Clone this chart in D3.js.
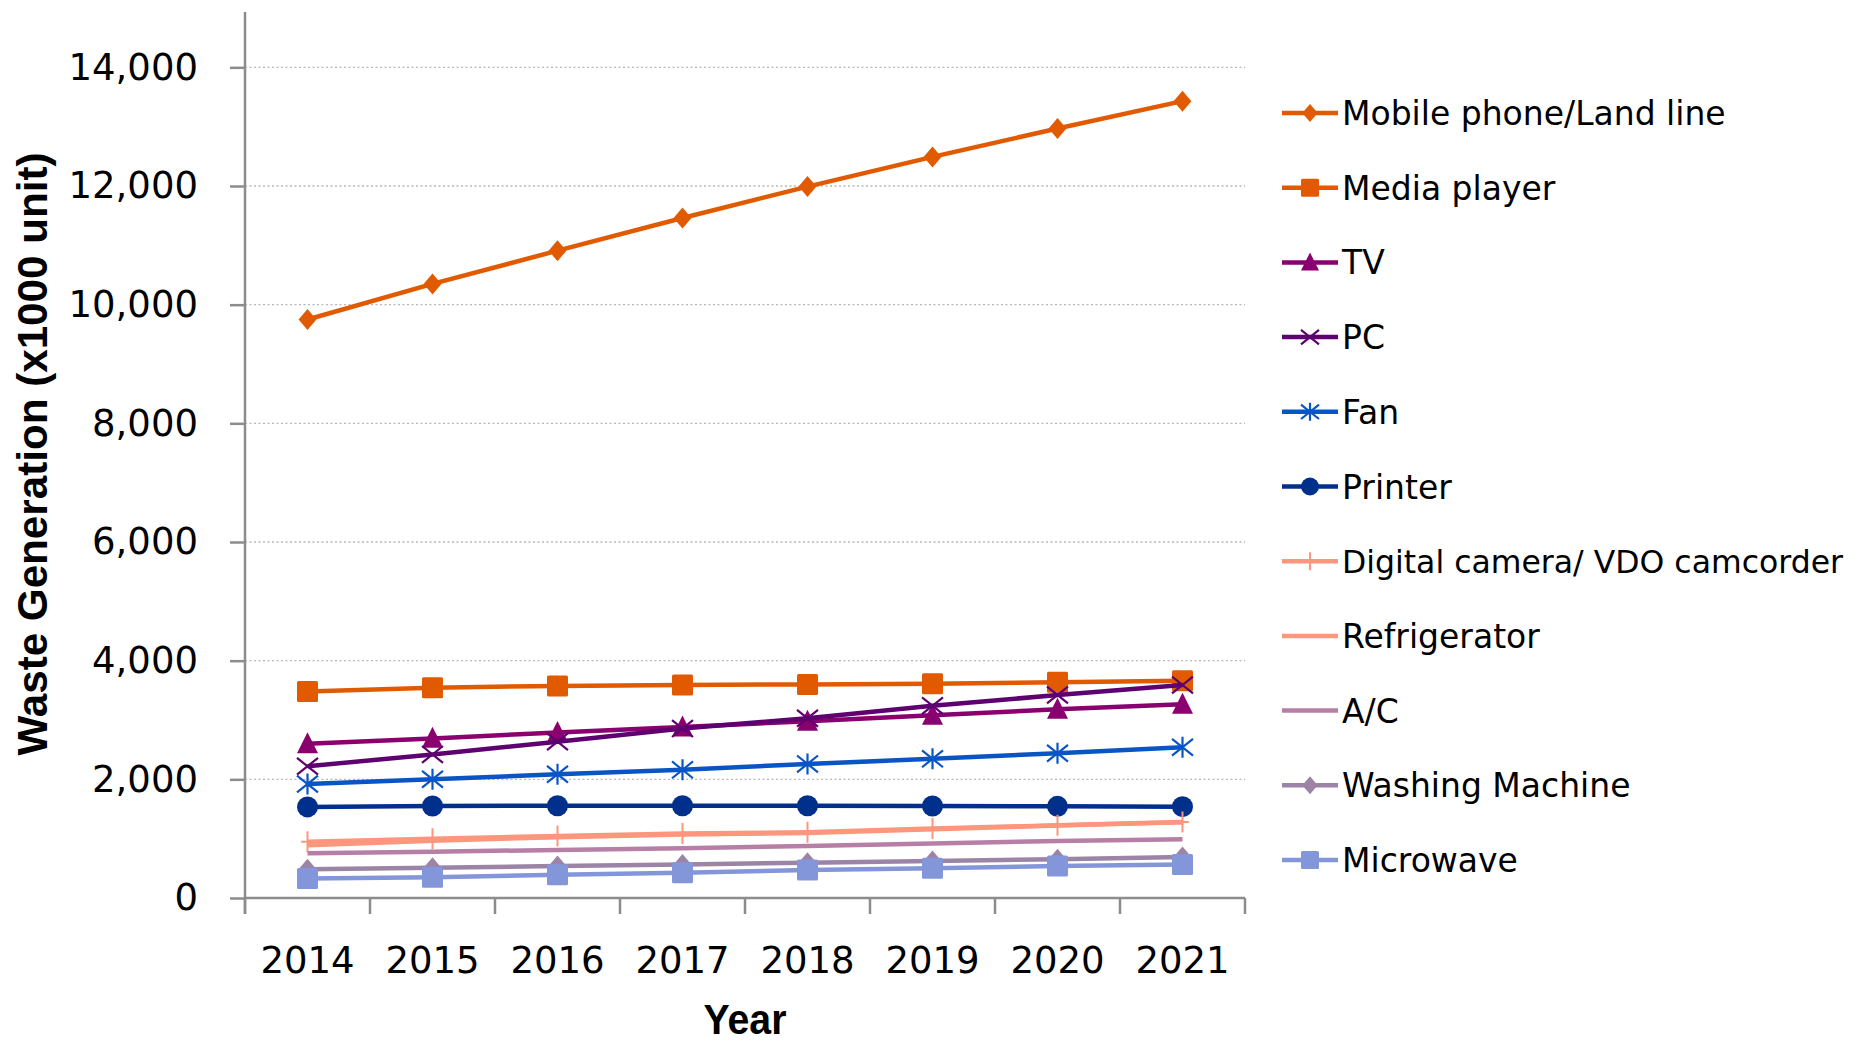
<!DOCTYPE html>
<html>
<head>
<meta charset="utf-8">
<script src="https://cdn.jsdelivr.net/npm/d3@7"></script>
<style>
  body { margin: 0; background: #fff; }
  svg { display: block; }
</style>
</head>
<body>
<div id="chart"></div>
<script>
// data
const years = ["2014", "2015", "2016", "2017", "2018", "2019", "2020", "2021"];
const seriesNames = ["Mobile phone/Land line", "Media player", "TV", "PC", "Fan", "Printer",
                     "Digital camera/ VDO camcorder", "Refrigerator", "A/C", "Washing Machine", "Microwave"];
const mobile = [9750, 10350, 10910, 11460, 11990, 12490, 12970, 13430];
const mediaPlayer = [3480, 3545, 3575, 3590, 3600, 3610, 3635, 3660];
const tv = [2600, 2690, 2790, 2880, 2980, 3080, 3180, 3265];
const pc = [2220, 2420, 2635, 2855, 3030, 3240, 3420, 3590];
const fan = [1920, 2000, 2085, 2160, 2260, 2345, 2440, 2540];
const printer = [1535, 1550, 1555, 1555, 1555, 1550, 1545, 1540];
const camera = [950, 1000, 1045, 1085, 1110, 1170, 1225, 1280];
const fridge = [890, 965, 1025, 1070, 1095, 1160, 1220, 1275];
const ac = [755, 780, 810, 840, 875, 920, 960, 990];
const washing = [485, 510, 540, 565, 595, 625, 655, 690];
const microwave = [330, 350, 390, 425, 470, 500, 540, 565];
const yTicks = [0, 2000, 4000, 6000, 8000, 10000, 12000, 14000];

const seriesValues = [mobile, mediaPlayer, tv, pc, fan, printer, camera, fridge, ac, washing, microwave];
const colors = ["#E25A00", "#E25A00", "#8A006E", "#5E0070", "#0A55C6", "#00308C",
                "#FC967C", "#FC967C", "#B77FA6", "#9C84A6", "#8496DA"];
const markers = ["diamond", "square", "triangle", "x", "star", "circle", "plus", null, null, "diamond", "square"];

const width = 1862, height = 1044;
const plot = { left: 245, right: 1245, top: 8, bottom: 898 };

const svg = d3.select("#chart").append("svg")
    .attr("width", width)
    .attr("height", height);

const x = d3.scalePoint().domain(years).range([plot.left, plot.right]).padding(0.5);
const xb = d3.scaleBand().domain(years).range([plot.left, plot.right]);
const y = d3.scaleLinear().domain([0, 15000]).range([plot.bottom, plot.top]);

// gridlines
svg.append("g")
   .selectAll("line")
   .data(yTicks.filter(d => d > 0))
   .enter().append("line")
   .attr("x1", plot.left).attr("x2", plot.right)
   .attr("y1", d => y(d)).attr("y2", d => y(d))
   .style("stroke", "#b8b8b8")
   .style("stroke-width", 1.3)
   .style("stroke-dasharray", "2,2.5");

// y axis
const yAxis = svg.append("g")
   .attr("transform", `translate(${plot.left},0)`)
   .call(d3.axisLeft(y).tickValues(yTicks).tickSize(15).tickPadding(32).tickFormat(d3.format(",")));
yAxis.select(".domain").attr("d", `M0,${plot.bottom + 16}V${12}`);
yAxis.selectAll("line, path").style("stroke", "#8c8c8c").style("stroke-width", 2.5);
yAxis.selectAll("text")
     .style("font-family", "DejaVu Sans")
     .style("font-size", "37px")
     .style("fill", "#000");

// x axis
const xAxis = svg.append("g");
xAxis.append("line")
     .attr("x1", plot.left).attr("x2", plot.right)
     .attr("y1", plot.bottom).attr("y2", plot.bottom)
     .style("stroke", "#8c8c8c").style("stroke-width", 2.5);
xAxis.selectAll(".tick")
     .data(years.map(d => xb(d)).concat([plot.right]))
     .enter().append("line")
     .attr("x1", d => d).attr("x2", d => d)
     .attr("y1", plot.bottom).attr("y2", plot.bottom + 16)
     .style("stroke", "#8c8c8c").style("stroke-width", 2.5);
xAxis.selectAll("text")
     .data(years)
     .enter().append("text")
     .attr("x", d => x(d))
     .attr("y", 973)
     .attr("text-anchor", "middle")
     .text(d => d)
     .style("font-family", "DejaVu Sans")
     .style("font-size", "37px");

// axis titles
svg.append("text")
   .attr("x", 745).attr("y", 1034)
   .attr("text-anchor", "middle")
   .attr("textLength", 83).attr("lengthAdjust", "spacingAndGlyphs")
   .text("Year")
   .style("font-family", "Liberation Sans")
   .style("font-weight", "bold")
   .style("font-size", "42px");

svg.append("text")
   .attr("transform", "translate(47,454) rotate(-90)")
   .attr("text-anchor", "middle")
   .attr("textLength", 603).attr("lengthAdjust", "spacingAndGlyphs")
   .text("Waste Generation (x1000 unit)")
   .style("font-family", "Liberation Sans")
   .style("font-weight", "bold")
   .style("font-size", "42px");

// marker drawing
function drawMarker(g, type, color, s) {
    if (type === "diamond") {
        g.append("path").attr("d", `M0,${-s}L${s * 0.85},0L0,${s}L${-s * 0.85},0Z`).style("fill", color);
    } else if (type === "square") {
        g.append("rect").attr("x", -s).attr("y", -s).attr("width", 2 * s).attr("height", 2 * s)
         .attr("rx", 1.5).style("fill", color);
    } else if (type === "triangle") {
        g.append("path").attr("d", `M0,${-s * 1.1}L${s},${s * 0.9}L${-s},${s * 0.9}Z`).style("fill", color);
    } else if (type === "circle") {
        g.append("circle").attr("r", s).style("fill", color);
    } else if (type === "x") {
        g.append("path").attr("d", `M${-s},${-s * 0.8}L${s},${s * 0.8}M${-s},${s * 0.8}L${s},${-s * 0.8}`)
         .style("stroke", color).style("stroke-width", 2.2).style("fill", "none");
    } else if (type === "star") {
        g.append("path").attr("d", `M${-s},${-s * 0.8}L${s},${s * 0.8}M${-s},${s * 0.8}L${s},${-s * 0.8}M0,${-s}V${s}`)
         .style("stroke", color).style("stroke-width", 2.2).style("fill", "none");
    } else if (type === "plus") {
        g.append("path").attr("d", `M0,${-s}V${s}M${-s * 0.6},0H${s * 0.6}`)
         .style("stroke", color).style("stroke-width", 2).style("fill", "none");
    }
}

const line = d3.line().x((d, i) => x(years[i])).y(d => y(d));

// series
seriesValues.forEach((vals, k) => {
    const g = svg.append("g").attr("class", "series");
    g.append("path")
     .attr("d", line(vals))
     .style("fill", "none")
     .style("stroke", colors[k])
     .style("stroke-width", 4.5)
     .style("stroke-linejoin", "round");
    if (markers[k]) {
        vals.forEach((v, i) => {
            const m = g.append("g").attr("transform", `translate(${x(years[i])},${y(v)})`);
            drawMarker(m, markers[k], colors[k], 10.5);
        });
    }
});

// legend
const legend = svg.append("g").attr("transform", "translate(1282,113)");
const items = legend.selectAll(".legendItem")
    .data(seriesNames)
    .enter().append("g")
    .attr("class", "legendItem")
    .attr("transform", (d, i) => `translate(0,${i * 74.7})`);

items.append("line")
     .attr("x1", 0).attr("x2", 56)
     .attr("y1", 0).attr("y2", 0)
     .style("stroke", (d, i) => colors[i])
     .style("stroke-width", 4.5);

items.each(function(d, i) {
    if (markers[i]) {
        const m = d3.select(this).append("g").attr("transform", "translate(28,0)");
        drawMarker(m, markers[i], colors[i], 9);
    }
});

// the long camera label is set a bit smaller so it stays inside the page
items.append("text")
     .attr("x", 60)
     .attr("y", 12)
     .text(d => d)
     .style("font-family", "DejaVu Sans")
     .style("font-size", d => d.startsWith("Digital") ? "31.5px" : "33px")
     .style("fill", "#000");
</script>
</body>
</html>
